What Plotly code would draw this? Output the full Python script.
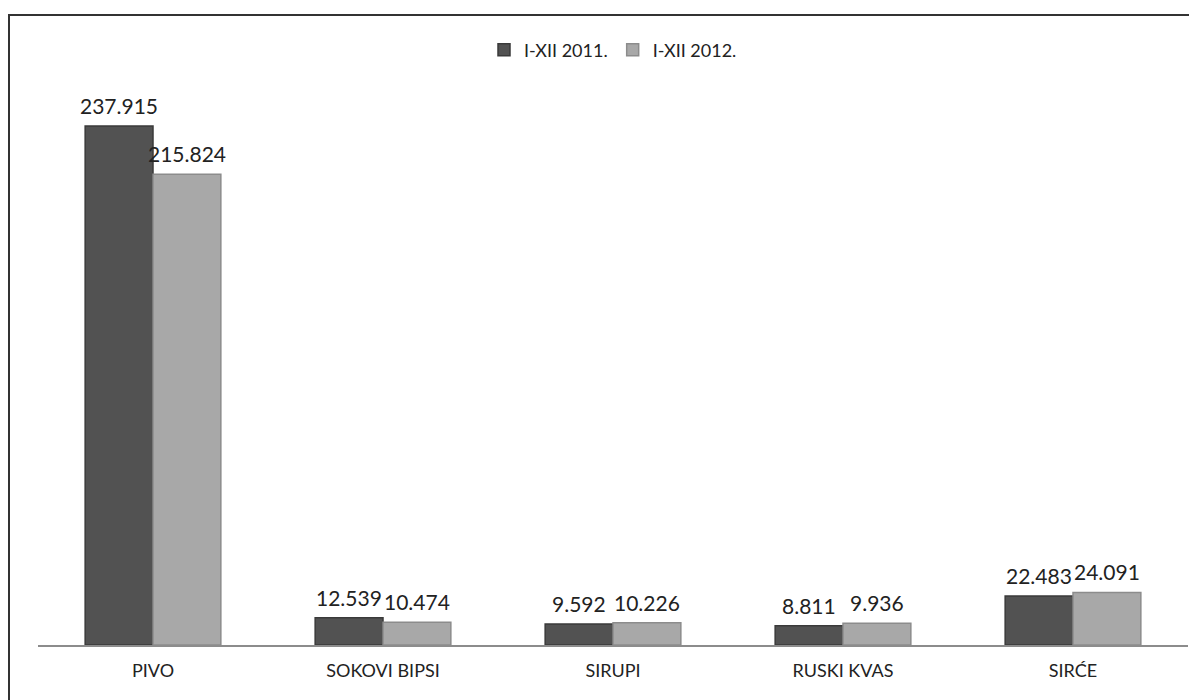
import plotly.graph_objects as go

categories = ["PIVO", "SOKOVI BIPSI", "SIRUPI", "RUSKI KVAS", "SIRĆE"]
series_2011 = [237.915, 12.539, 9.592, 8.811, 22.483]
series_2012 = [215.824, 10.474, 10.226, 9.936, 24.091]
series_names = ["I-XII 2011.", "I-XII 2012."]

# page body has an 8px margin, so figure pixel = reference pixel - 8
W, H = 1189, 692
ml, mr, mt, mb = 30, 9, 72, 55
pw, ph = W - ml - mr, H - mt - mb
BARGAP = 0.41

def px_x(x):
    return (x - ml) / pw

def px_y(y):
    return (H - mb - y) / ph

font = "Lato"
txt_color = "#222222"

fig = go.Figure()
fig.add_trace(go.Bar(
    x=categories, y=series_2011, name=series_names[0],
    marker=dict(color="#525252", line=dict(color="#3a3a3a", width=1.5)),
))
fig.add_trace(go.Bar(
    x=categories, y=series_2012, name=series_names[1],
    marker=dict(color="#a8a8a8", line=dict(color="#8c8c8c", width=1.5)),
))

# value labels above each bar, positioned through the data scale
cat_px = pw / len(categories)
bar_px = cat_px * (1 - BARGAP) / 2
annotations = []
for vals, sign in ((series_2011, -1), (series_2012, 1)):
    for c, v in zip(categories, vals):
        annotations.append(dict(
            x=c, y=v, xref="x", yref="y", text=f"{v:.3f}", showarrow=False,
            xanchor="center", yanchor="bottom", xshift=sign * bar_px / 2, yshift=6,
            font=dict(family=font, size=21, color=txt_color),
        ))

fig.update_layout(
    width=W, height=H,
    margin=dict(l=ml, r=mr, t=mt, b=mb),
    paper_bgcolor="white", plot_bgcolor="white",
    barmode="group", bargap=BARGAP, bargroupgap=0,
    showlegend=True,
    legend=dict(orientation="h", x=0.5, xanchor="center", y=px_y(42), yanchor="middle",
                font=dict(family=font, size=18, color=txt_color),
                itemwidth=30, bgcolor="rgba(0,0,0,0)"),
    xaxis=dict(showline=True, linecolor="#8c8c8c", linewidth=2, showgrid=False,
               ticks="", tickfont=dict(family=font, size=18, color=txt_color),
               ticklabelstandoff=8),
    yaxis=dict(range=[0, 259], visible=False, showgrid=False, zeroline=False),
    annotations=annotations,
    shapes=[dict(type="rect", xref="paper", yref="paper",
                 x0=px_x(1), x1=px_x(1230), y0=px_y(740), y1=px_y(7),
                 line=dict(color="#333333", width=2), layer="above")],
)

fig.write_html("out.html")
